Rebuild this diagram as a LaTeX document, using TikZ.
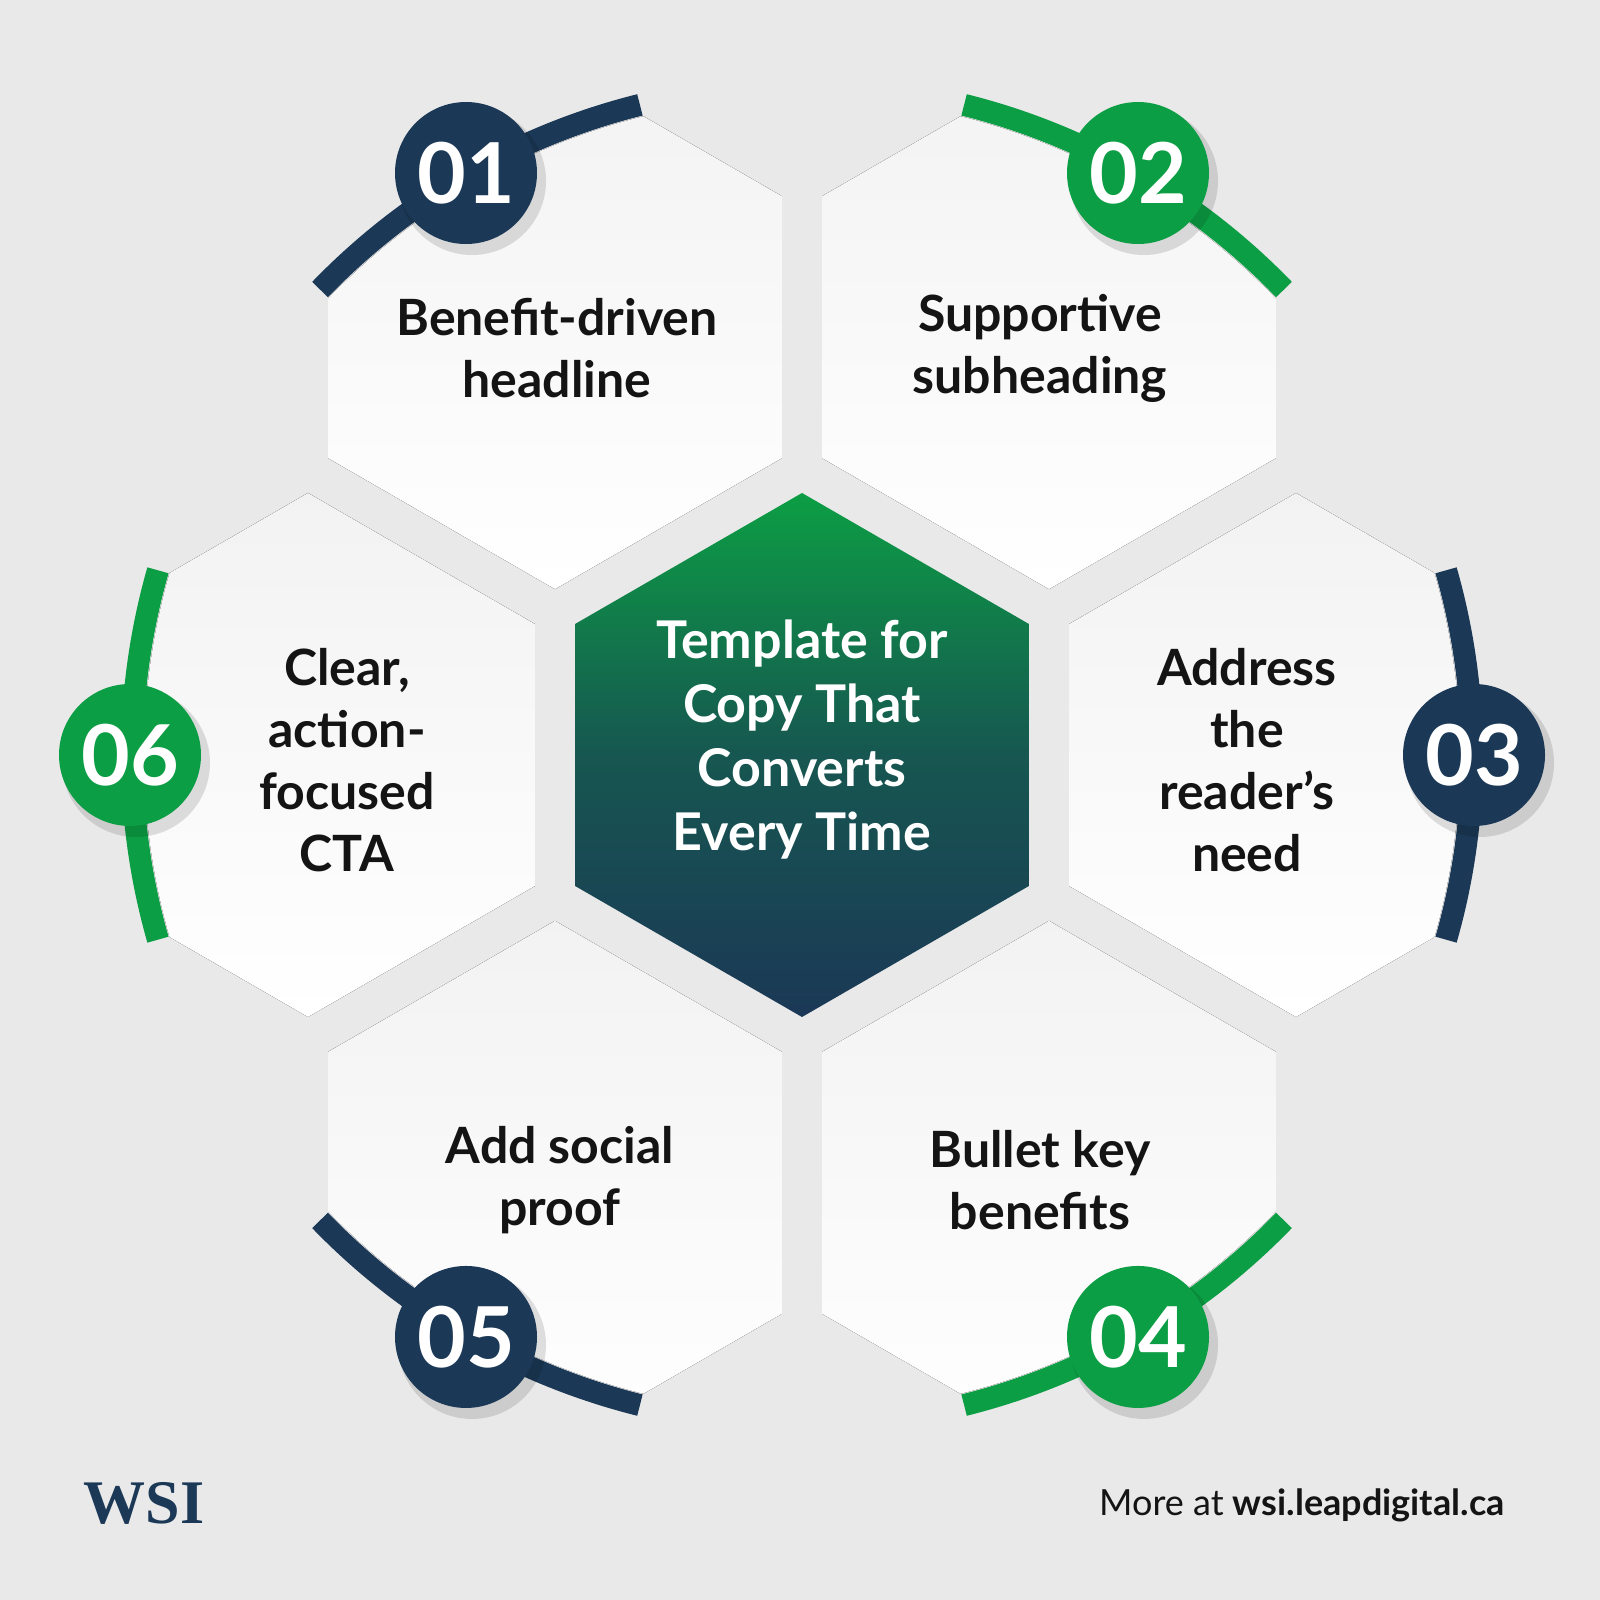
\documentclass[tikz,border=0pt]{standalone}
\usepackage{fontspec}
\usetikzlibrary{calc}
\setmainfont{Lato}
\newfontfamily\serifw{Liberation Serif}
\definecolor{navy}{RGB}{27,56,86}
\definecolor{grn}{RGB}{12,158,68}
\definecolor{bg}{RGB}{233,233,233}
\definecolor{txt}{RGB}{20,20,20}
\begin{document}
\begin{tikzpicture}[x=1pt,y=1pt,
  hexfill/.style={top color=black!5,bottom color=white},
  badge/.style={circle,minimum size=142,inner sep=0,text=white,font=\fontsize{84}{84}\selectfont\bfseries},
  lab/.style={align=center,text=txt,font=\fontsize{50}{62}\selectfont\bfseries}]
\useasboundingbox (0,0) rectangle (1600,1600);
\fill[bg] (0,0) rectangle (1600,1600);
\coordinate (C) at (802,845);
% outer hexes
\begin{scope}
\clip (C) circle (658);
\foreach \a in {120,60,0,-60,-120,180}{
  \fill[hexfill,shift={($(802,845)+(\a:494)$)}] (30:262)--(90:262)--(150:262)--(210:262)--(270:262)--(330:262)--cycle;
}
\end{scope}
% arcs
\foreach \a/\c in {120/navy,60/grn,0/navy,-60/grn,-120/navy,180/grn}{
  \draw[\c,line width=22] ($(C)+(\a-16:670)$) arc[start angle=\a-16,end angle=\a+16,radius=670];
}
% center hex
\shade[top color=grn,bottom color=navy,middle color=navy!70!grn,shift={(802,845)}]
 (30:262)--(90:262)--(150:262)--(210:262)--(270:262)--(330:262)--cycle;
\node[align=center,text=white,font=\fontsize{52}{64}\selectfont\bfseries] (ctr) at (802,860) {Template for\\Copy That\\Converts\\Every Time};
% badges
\foreach \n/\a/\c in {01/120/navy,02/60/grn,03/0/navy,04/-60/grn,05/-120/navy,06/180/grn}{
  \fill[black,opacity=0.12] ($(C)+(\a:672)+(6,-8)$) circle (74);
  \node[badge,fill=\c] (b\n) at ($(C)+(\a:672)$) {\n};
}
\node[lab] (t1) at (557,1252) {Benefit-driven\\headline};
\node[lab] (t2) at (1040,1252) {Supportive\\subheading};
\node[lab] (t3) at (1247,840) {Address\\the\\reader’s\\need};
\node[lab] (t6) at (347,840) {Clear,\\action-\\focused\\CTA};
\node[lab] (t5) at (560,420) {Add social\\proof};
\node[lab] (t4) at (1040,420) {Bullet key\\benefits};
\node[anchor=west,text=navy,font=\serifw\bfseries\fontsize{62}{62}\selectfont] (logo) at (80,97) {WSI};
\node[anchor=base east,text=txt,font=\fontsize{36}{36}\selectfont] (more) at (1508,84) {More at \textbf{wsi.leapdigital.ca}};
\end{tikzpicture}
\end{document}
